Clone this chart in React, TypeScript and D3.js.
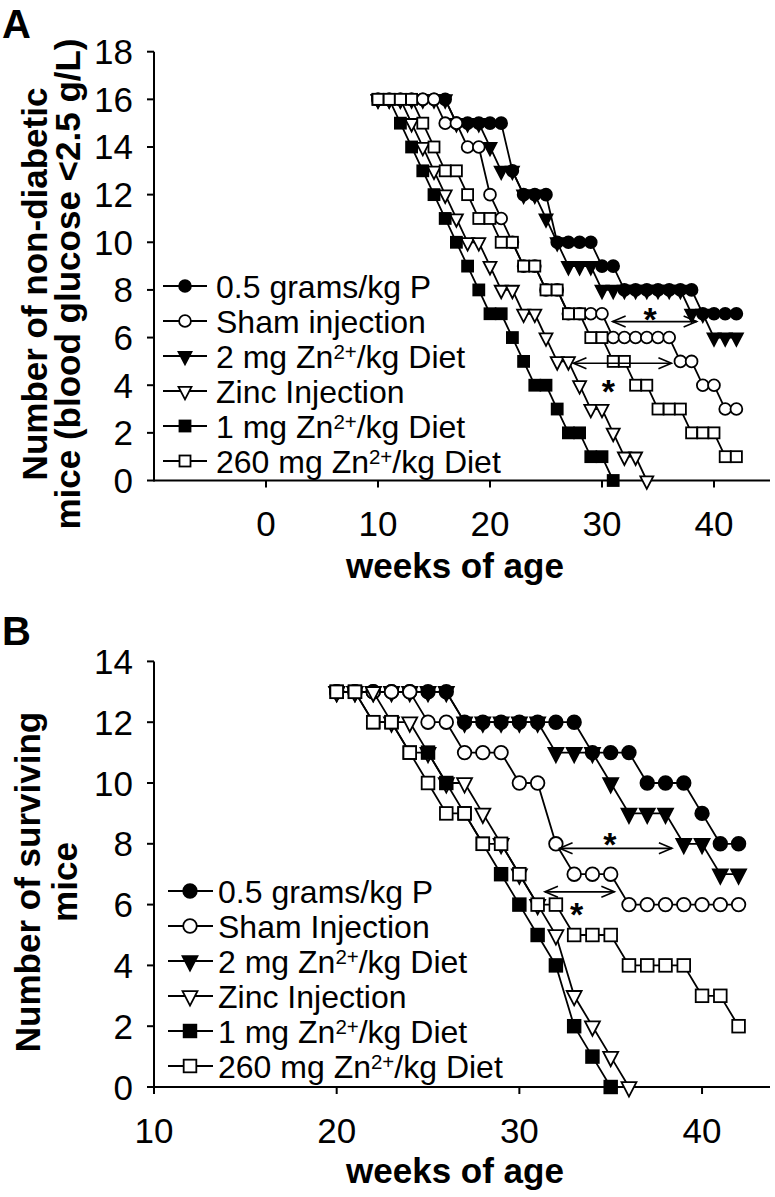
import React from "react";
import * as d3 from "d3";

const FONT = '"Liberation Sans", Arial, Helvetica, sans-serif';

// ---------- legend labels ----------
const labelsA = [
  { pre: "0.5 grams/kg P", sup: "", post: "" },
  { pre: "Sham injection", sup: "", post: "" },
  { pre: "2 mg Zn", sup: "2+", post: "/kg Diet" },
  { pre: "Zinc Injection", sup: "", post: "" },
  { pre: "1 mg Zn", sup: "2+", post: "/kg Diet" },
  { pre: "260 mg Zn", sup: "2+", post: "/kg Diet" },
];
const labelsB = [
  { pre: "0.5 grams/kg P", sup: "", post: "" },
  { pre: "Sham Injection", sup: "", post: "" },
  { pre: "2 mg Zn", sup: "2+", post: "/kg Diet" },
  { pre: "Zinc Injection", sup: "", post: "" },
  { pre: "1 mg Zn", sup: "2+", post: "/kg Diet" },
  { pre: "260 mg Zn", sup: "2+", post: "/kg Diet" },
];
const markerTypes = ["circleFilled", "circleOpen", "triFilled", "triOpen", "squareFilled", "squareOpen"];

// ---------- Panel A data (weekly values, first week given) ----------
const startA = [10, 10, 10, 10, 10, 10];
const pA = [16, 16, 16, 16, 16, 16, 16, 15, 15, 15, 15, 15, 13, 12, 12, 12, 10, 10, 10, 10, 9, 9, 8, 8, 8, 8, 8, 8, 8, 7, 7, 7, 7];
const shamA = [16, 16, 16, 16, 16, 16, 15, 15, 14, 14, 12, 11, 10, 9, 9, 8, 8, 7, 7, 7, 7, 6, 6, 6, 6, 6, 6, 5, 5, 4, 4, 3, 3];
const mg2A = [16, 16, 16, 16, 16, 16, 16, 15, 15, 15, 14, 13, 13, 12, 12, 11, 10, 9, 9, 9, 8, 8, 8, 8, 8, 8, 8, 8, 7, 7, 6, 6, 6];
const zincA = [16, 16, 16, 15, 14, 13, 12, 11, 10, 10, 9, 8, 8, 7, 7, 6, 5, 5, 4, 3, 3, 2, 1, 1, 0];
const mg1A = [16, 16, 15, 14, 13, 12, 11, 10, 9, 8, 7, 7, 6, 5, 4, 4, 3, 2, 2, 1, 1, 0];
const mg260A = [16, 16, 16, 16, 15, 14, 13, 13, 12, 11, 11, 10, 10, 9, 9, 8, 8, 7, 7, 6, 6, 5, 5, 4, 4, 3, 3, 3, 2, 2, 2, 1, 1];

// ---------- Panel B data ----------
const startB = [20, 20, 20, 20, 20, 20];
const pB = [13, 13, 13, 13, 13, 13, 13, 12, 12, 12, 12, 12, 12, 12, 11, 11, 11, 10, 10, 10, 9, 8, 8];
const shamB = [13, 13, 13, 13, 13, 12, 12, 11, 11, 11, 10, 10, 8, 7, 7, 7, 6, 6, 6, 6, 6, 6, 6];
const mg2B = [13, 13, 13, 13, 13, 13, 13, 12, 12, 12, 12, 12, 11, 11, 11, 10, 9, 9, 9, 8, 8, 7, 7];
const zincB = [13, 13, 13, 12, 12, 11, 10, 10, 9, 8, 7, 6, 5, 3, 2, 1, 0];
const mg1B = [13, 13, 12, 12, 11, 11, 10, 9, 8, 7, 6, 5, 4, 2, 1, 0];
const mg260B = [13, 13, 12, 12, 11, 10, 9, 9, 8, 8, 7, 6, 6, 5, 5, 5, 4, 4, 4, 4, 3, 3, 2];

// ---------- ticks ----------
const xTicksA = [0, 10, 20, 30, 40];
const yTicksA = [0, 2, 4, 6, 8, 10, 12, 14, 16, 18];
const xTicksB = [10, 20, 30, 40];
const yTicksB = [0, 2, 4, 6, 8, 10, 12, 14];

// ---------- significance annotations: [week1, week2, level, starWeek, starLevel] ----------
const arrowsA = [
  [30.95, 38.45, 6.67, 34.3, 7.09],
  [27.45, 36.2, 4.92, 30.56, 4.05],
];
const arrowsB = [
  [32.2, 38.35, 7.85, 34.96, 8.23],
  [31.4, 35.2, 6.42, 33.14, 5.93],
];

// draw order: 2 mg first, then P, sham, zinc, 1 mg, 260 mg
const drawOrder = [2, 0, 1, 3, 4, 5];

function Marker({ type, x, y, k }: { type: string; x: number; y: number; k: number }) {
  const sw = 1.8;
  const filled = type.endsWith("Filled");
  const fill = filled ? "#000" : "#fff";
  if (type.startsWith("circle")) {
    return <circle cx={x} cy={y} r={5.9 * k} fill={fill} stroke="#000" strokeWidth={sw} />;
  }
  if (type.startsWith("square")) {
    const s = 11 * k;
    return <rect x={x - s / 2} y={y - s / 2} width={s} height={s} fill={fill} stroke="#000" strokeWidth={sw} />;
  }
  const w = 13 * k;
  const h = 12.5 * k;
  const pts = `${x - w / 2},${y - h / 3} ${x + w / 2},${y - h / 3} ${x},${y + (2 * h) / 3}`;
  return <polygon points={pts} fill={fill} stroke="#000" strokeWidth={sw} strokeLinejoin="miter" />;
}

function Label({ lab, x, y, fs }: any) {
  return (
    <text x={x} y={y} fontFamily={FONT} fontSize={fs} fill="#000">
      {lab.pre}
      {lab.sup ? (
        <tspan fontSize={fs * 0.64} dy={-fs * 0.27}>
          {lab.sup}
        </tspan>
      ) : null}
      {lab.post ? <tspan dy={lab.sup ? fs * 0.27 : 0}>{lab.post}</tspan> : null}
    </text>
  );
}

function Arrow({ x1, x2, y }: { x1: number; x2: number; y: number }) {
  const hl = 13;
  const hw = 5.5;
  return (
    <g stroke="#000" strokeWidth={1.6} fill="none">
      <line x1={x1} y1={y} x2={x2} y2={y} />
      <polyline points={`${x1 + hl},${y - hw} ${x1},${y} ${x1 + hl},${y + hw}`} />
      <polyline points={`${x2 - hl},${y - hw} ${x2},${y} ${x2 - hl},${y + hw}`} />
    </g>
  );
}

function Panel({ cfg }: any) {
  const x = d3.scaleLinear().domain(cfg.xDomain).range(cfg.xRange);
  const y = d3.scaleLinear().domain(cfg.yDomain).range(cfg.yRange);
  const line = d3
    .line<[number, number]>()
    .x((d) => x(d[0]))
    .y((d) => y(d[1]));
  const [x0, x1] = cfg.xRange;
  const [y0, y1] = cfg.yRange;
  const series = cfg.series.map((vals: number[], i: number) =>
    vals.map((v, j) => [cfg.starts[i] + j, v] as [number, number])
  );
  return (
    <g>
      {/* panel letter */}
      <text x={cfg.letterX} y={cfg.letterY} fontFamily={FONT} fontWeight="bold" fontSize={40}>
        {cfg.letter}
      </text>
      {/* axes */}
      <line x1={x0} y1={y0} x2={x1} y2={y0} stroke="#000" strokeWidth={2} />
      <line x1={x0} y1={y0 + 1} x2={x0} y2={y1} stroke="#000" strokeWidth={2} />
      {cfg.yTicks.map((t: number) => (
        <g key={"y" + t}>
          <line x1={x0 - 7} x2={x0} y1={y(t)} y2={y(t)} stroke="#000" strokeWidth={2} />
          <text x={x0 - 21} y={y(t) + 12.5} textAnchor="end" fontFamily={FONT} fontSize={35}>
            {t}
          </text>
        </g>
      ))}
      {cfg.xTicks.map((t: number) => (
        <g key={"x" + t}>
          <line x1={x(t)} x2={x(t)} y1={y0} y2={y0 + 7} stroke="#000" strokeWidth={2} />
          <text x={x(t)} y={cfg.xLabelY} textAnchor="middle" fontFamily={FONT} fontSize={35}>
            {t}
          </text>
        </g>
      ))}
      <text x={cfg.xTitleX} y={cfg.xTitleY} textAnchor="middle" fontFamily={FONT} fontWeight="bold" fontSize={35}>
        weeks of age
      </text>
      {cfg.yTitle.map((s: string, i: number) => (
        <text
          key={s}
          transform={`translate(${cfg.yTitleX[i]},${cfg.yTitleC}) rotate(-90)`}
          textAnchor="middle"
          fontFamily={FONT}
          fontWeight="bold"
          fontSize={35}
        >
          {s}
        </text>
      ))}
      {/* series */}
      {drawOrder.map((i) => (
        <g key={"s" + i}>
          <path d={line(series[i]) || ""} fill="none" stroke="#000" strokeWidth={1.8} />
          {series[i].map((p: [number, number], j: number) => (
            <Marker key={j} type={markerTypes[i]} x={x(p[0])} y={y(p[1])} k={cfg.k} />
          ))}
        </g>
      ))}
      {/* annotations */}
      {cfg.arrows.map((a: number[], i: number) => (
        <g key={"a" + i}>
          <Arrow x1={x(a[0])} x2={x(a[1])} y={y(a[2])} />
          <text x={x(a[3])} y={y(a[4]) + 19} textAnchor="middle" fontFamily={FONT} fontWeight="bold" fontSize={34}>
            *
          </text>
        </g>
      ))}
      {/* legend */}
      {cfg.labels.map((lab: any, i: number) => {
        const ly = cfg.legendY[i];
        return (
          <g key={"l" + i}>
            <line x1={cfg.legendX[0]} x2={cfg.legendX[2]} y1={ly} y2={ly} stroke="#000" strokeWidth={1.8} />
            <Marker type={markerTypes[i]} x={cfg.legendX[1]} y={ly} k={cfg.k} />
            <Label lab={lab} x={cfg.legendX[3]} y={ly + 11.5} fs={32} />
          </g>
        );
      })}
    </g>
  );
}

const cfgA = {
  letter: "A",
  letterX: 2,
  letterY: 38,
  xDomain: [-10, 45],
  yDomain: [0, 18],
  xRange: [154, 770],
  yRange: [480.5, 51.7],
  xTicks: xTicksA,
  yTicks: yTicksA,
  xLabelY: 536,
  xTitleX: 455,
  xTitleY: 578,
  yTitle: ["Number of non-diabetic", "mice (blood glucose <2.5 g/L)"],
  yTitleX: [47, 80],
  yTitleC: 284,
  series: [pA, shamA, mg2A, zincA, mg1A, mg260A],
  starts: startA,
  k: 1,
  arrows: arrowsA,
  labels: labelsA,
  legendY: [286, 321, 356, 391, 426, 461],
  legendX: [163, 185, 207, 216],
};

const cfgB = {
  letter: "B",
  letterX: 2,
  letterY: 645,
  xDomain: [10, 43.72],
  yDomain: [0, 14],
  xRange: [154, 770],
  yRange: [1087, 661.4],
  xTicks: xTicksB,
  yTicks: yTicksB,
  xLabelY: 1143,
  xTitleX: 455,
  xTitleY: 1183,
  yTitle: ["Number of surviving", "mice"],
  yTitleX: [40, 77],
  yTitleC: 882,
  series: [pB, shamB, mg2B, zincB, mg1B, mg260B],
  starts: startB,
  k: 1.15,
  arrows: arrowsB,
  labels: labelsB,
  legendY: [891, 926, 961, 996, 1031, 1066],
  legendX: [168, 190, 213, 218],
};

export default function App() {
  return (
    <svg
      width={775}
      height={1197}
      viewBox="0 0 775 1197"
      style={{ position: "absolute", left: 0, top: 0, background: "#fff" }}
    >
      <rect x={0} y={0} width={775} height={1197} fill="#fff" />
      <Panel cfg={cfgA} />
      <Panel cfg={cfgB} />
    </svg>
  );
}
